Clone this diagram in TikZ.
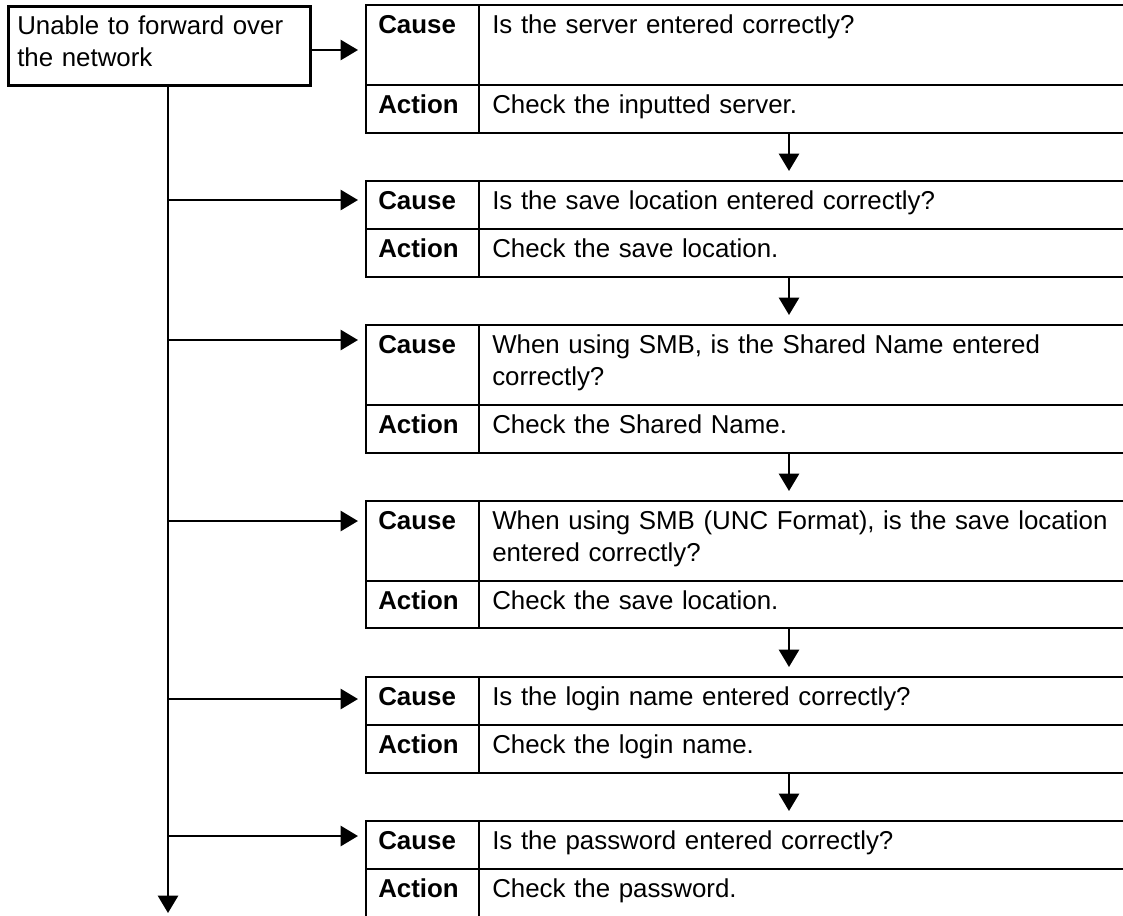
\documentclass[tikz,border=0pt]{standalone}
\usepackage{fontspec}
\setmainfont{Liberation Sans}
\usetikzlibrary{arrows.meta}
\begin{document}
\begin{tikzpicture}[x=0.75pt,y=-0.75pt,line width=1.9pt,
		flow/.style={-{Triangle[length=13pt,width=15pt]}},
		lbl/.style={anchor=base west,inner sep=0pt,font=\fontsize{19.4}{24}\selectfont\bfseries},
		txt/.style={anchor=base west,inner sep=0pt,text width=600pt,align=left,font=\fontsize{19.4}{24}\selectfont}]
		\useasboundingbox (0,0) rectangle (1123,915);

		\node [draw,anchor=north west,minimum width=226.5pt,minimum height=59.25pt,text width=213pt,
			inner xsep=6.75pt,inner ysep=0pt,align=left,font=\fontsize{19.4}{24}\selectfont]
			(fault) at (7,5) {Unable to forward over\\the network\strut};

		% trunk and branches
		\coordinate (trunk) at (168,0);
		\coordinate (down) at (168,913);
		\coordinate (in1) at (358,50);
		\coordinate (in2) at (358,200);
		\coordinate (in3) at (358,340);
		\coordinate (in4) at (358,521);
		\coordinate (in5) at (358,699);
		\coordinate (in6) at (358,836);

		\draw [flow] (fault.south -| trunk) -- (down);
		\draw [flow] (fault.east |- in1) -- (in1);
		\draw [flow] (trunk |- in2) -- (in2);
		\draw [flow] (trunk |- in3) -- (in3);
		\draw [flow] (trunk |- in4) -- (in4);
		\draw [flow] (trunk |- in5) -- (in5);
		\draw [flow] (trunk |- in6) -- (in6);

		% tables
		\draw (1124,5) -- (366,5) -- (366,133) -- (1124,133);
		\draw (366,85) -- (1124,85);
		\draw (479,5) -- (479,133);

		\draw (1124,181) -- (366,181) -- (366,277) -- (1124,277);
		\draw (366,229) -- (1124,229);
		\draw (479,181) -- (479,277);

		\draw (1124,325) -- (366,325) -- (366,453) -- (1124,453);
		\draw (366,405) -- (1124,405);
		\draw (479,325) -- (479,453);

		\draw (1124,501) -- (366,501) -- (366,628) -- (1124,628);
		\draw (366,581) -- (1124,581);
		\draw (479,501) -- (479,628);

		\draw (1124,677) -- (366,677) -- (366,773) -- (1124,773);
		\draw (366,725) -- (1124,725);
		\draw (479,677) -- (479,773);

		\draw (1124,821) -- (366,821) -- (366,916);
		\draw (366,869) -- (1124,869);
		\draw (479,821) -- (479,916);

		% texts
		\node [lbl] (c1) at (377,33) {Cause};
		\node [txt] (q1) at (491,33) {Is the server entered correctly?};
		\node [lbl] (a1) at (377,113) {Action};
		\node [txt] (r1) at (491,113) {Check the inputted server.};

		\node [lbl] (c2) at (377,209) {Cause};
		\node [txt] (q2) at (491,209) {Is the save location entered correctly?};
		\node [lbl] (a2) at (377,257) {Action};
		\node [txt] (r2) at (491,257) {Check the save location.};

		\node [lbl] (c3) at (377,353) {Cause};
		\node [txt] (q3) at (491,353) {When using SMB, is the Shared Name entered\\correctly?};
		\node [lbl] (a3) at (377,433) {Action};
		\node [txt] (r3) at (491,433) {Check the Shared Name.};

		\node [lbl] (c4) at (377,529) {Cause};
		\node [txt] (q4) at (491,529) {When using SMB (UNC Format), is the save location\\entered correctly?};
		\node [lbl] (a4) at (377,609) {Action};
		\node [txt] (r4) at (491,609) {Check the save location.};

		\node [lbl] (c5) at (377,705) {Cause};
		\node [txt] (q5) at (491,705) {Is the login name entered correctly?};
		\node [lbl] (a5) at (377,753) {Action};
		\node [txt] (r5) at (491,753) {Check the login name.};

		\node [lbl] (c6) at (377,849) {Cause};
		\node [txt] (q6) at (491,849) {Is the password entered correctly?};
		\node [lbl] (a6) at (377,897) {Action};
		\node [txt] (r6) at (491,897) {Check the password.};

		% steps down
		\coordinate (s1) at (789,133);
		\coordinate (s2) at (789,277);
		\coordinate (s3) at (789,453);
		\coordinate (s4) at (789,628);
		\coordinate (s5) at (789,773);
		\draw [flow] (s1) -- ++(0,38);
		\draw [flow] (s2) -- ++(0,38);
		\draw [flow] (s3) -- ++(0,38);
		\draw [flow] (s4) -- ++(0,39);
		\draw [flow] (s5) -- ++(0,38);

		\end{tikzpicture}
\end{document}
